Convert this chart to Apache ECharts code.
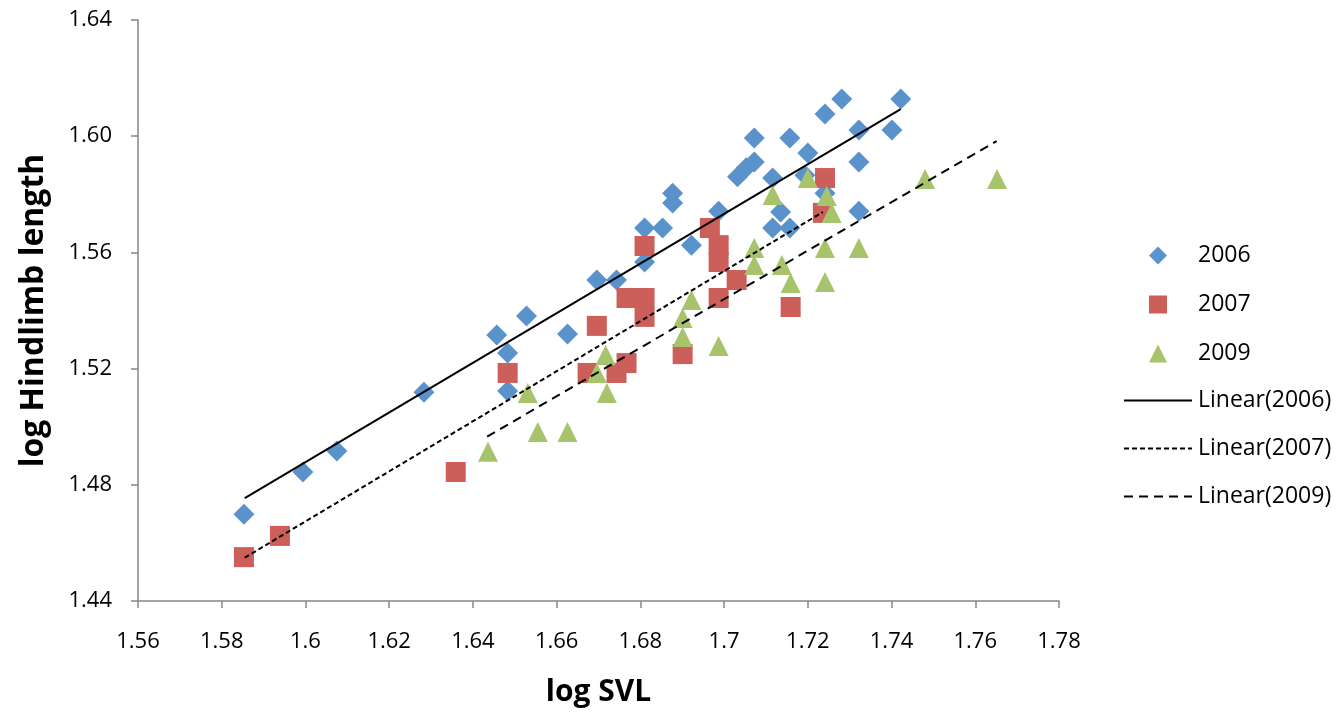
<!DOCTYPE html>
<html>
<head>
<meta charset="utf-8">
<title>log Hindlimb length vs log SVL</title>
<script src="https://cdn.jsdelivr.net/npm/echarts@6/dist/echarts.min.js"></script>
<style>
    html, body {margin: 0; padding: 0; background: #fff;}
    #chart {width: 1338px; height: 723px;}
</style>
</head>
<body>
<div id="chart"></div>
<script>

    // 每年的散点 [log SVL, log Hindlimb length]
    var points2006 = [
        [1.5853, 1.4699], [1.5994, 1.4844], [1.6075, 1.4916], [1.6283, 1.5119],
        [1.6457, 1.5316], [1.6483, 1.5254], [1.6483, 1.5123], [1.6528, 1.5381],
        [1.6626, 1.5319], [1.6696, 1.5505], [1.6743, 1.5505], [1.6810, 1.5567],
        [1.6810, 1.5684], [1.6853, 1.5684], [1.6877, 1.5804], [1.6877, 1.5770],
        [1.6922, 1.5625], [1.6987, 1.5742], [1.7032, 1.5860], [1.7053, 1.5891],
        [1.7072, 1.5911], [1.7072, 1.5994], [1.7116, 1.5856], [1.7116, 1.5684],
        [1.7135, 1.5739], [1.7157, 1.5994], [1.7157, 1.5684], [1.7193, 1.5866],
        [1.7200, 1.5942], [1.7241, 1.6076], [1.7241, 1.5804], [1.7281, 1.6128],
        [1.7322, 1.6021], [1.7322, 1.5911], [1.7322, 1.5742], [1.7401, 1.6021],
        [1.7422, 1.6128]
    ];

    var points2007 = [
        [1.5853, 1.4551], [1.5939, 1.4624], [1.6359, 1.4844], [1.6483, 1.5185],
        [1.6696, 1.5347], [1.6674, 1.5185], [1.6743, 1.5185], [1.6767, 1.5219],
        [1.6767, 1.5443], [1.6810, 1.5443], [1.6810, 1.5378], [1.6810, 1.5622],
        [1.6901, 1.5250], [1.6966, 1.5684], [1.6987, 1.5625], [1.6987, 1.5567],
        [1.6987, 1.5443], [1.7030, 1.5505], [1.7159, 1.5412], [1.7241, 1.5856],
        [1.7236, 1.5736]
    ];

    var points2009 = [
        [1.6436, 1.4914], [1.6531, 1.5116], [1.6555, 1.4982], [1.6626, 1.4982],
        [1.6696, 1.5185], [1.6717, 1.5247], [1.6720, 1.5116], [1.6901, 1.5374],
        [1.6901, 1.5309], [1.6922, 1.5436], [1.6987, 1.5278], [1.7072, 1.5615],
        [1.7072, 1.5557], [1.7116, 1.5798], [1.7138, 1.5557], [1.7159, 1.5495],
        [1.7200, 1.5856], [1.7245, 1.5794], [1.7241, 1.5615], [1.7241, 1.5498],
        [1.7257, 1.5736], [1.7322, 1.5615], [1.7480, 1.5853], [1.7652, 1.5853]
    ];

    // 趋势线端点
    var trend2006 = [[1.5855, 1.4754], [1.7422, 1.6093]];
    var trend2007 = [[1.5855, 1.4549], [1.7236, 1.5739]];
    var trend2009 = [[1.6434, 1.4966], [1.7651, 1.5983]];

    var yearNames = ['2006', '2007', '2009'];
    var trendNames = ['Linear(2006)', 'Linear(2007)', 'Linear(2009)'];

    var FONT = '"Open Sans", "Noto Sans", sans-serif';
    var AXIS_COLOR = '#868686';

    var chart = echarts.init(document.getElementById('chart'), null, {renderer: 'canvas'});

    function scatter(name, data, symbol, size, color) {
        return {
            name: name,
            type: 'scatter',
            data: data,
            symbol: symbol,
            symbolSize: size,
            itemStyle: {color: color, opacity: 1},
            emphasis: {disabled: true},
            z: 2
        };
    }

    function trend(name, data, dash) {
        return {
            name: name,
            type: 'line',
            data: data,
            symbol: 'none',
            lineStyle: {color: '#000', width: 2, type: dash},
            emphasis: {disabled: true},
            silent: true,
            z: 5
        };
    }

    var option = {
        animation: false,
        backgroundColor: '#fff',
        grid: {left: 138, top: 20, width: 921, height: 581},
        legend: [
            {
                data: yearNames,
                orient: 'vertical',
                left: 1149,
                top: 244,
                padding: 0,
                itemWidth: 18,
                itemHeight: 18,
                itemGap: 26,
                selectedMode: false,
                textStyle: {
                    fontFamily: FONT, fontSize: 23, color: '#000',
                    lineHeight: 18, padding: [0, 0, 0, 26]
                }
            },
            {
                data: trendNames,
                orient: 'vertical',
                left: 1123,
                top: 389,
                padding: 0,
                itemWidth: 68,
                itemHeight: 14,
                itemGap: 25,
                selectedMode: false,
                itemStyle: {opacity: 0},
                textStyle: {
                    fontFamily: FONT, fontSize: 23, color: '#000',
                    lineHeight: 14, padding: [0, 0, 0, 1]
                }
            }
        ],
        xAxis: {
            type: 'value',
            min: 1.56,
            max: 1.78,
            interval: 0.02,
            name: 'log SVL',
            nameLocation: 'middle',
            nameGap: 76,
            nameTextStyle: {fontFamily: FONT, fontSize: 30, fontWeight: 'bold', color: '#000'},
            axisLine: {lineStyle: {color: AXIS_COLOR, width: 1.5}},
            axisTick: {show: true, length: 7, lineStyle: {color: AXIS_COLOR, width: 1.5}},
            axisLabel: {
                fontFamily: FONT, fontSize: 22, color: '#000', margin: 30,
                formatter: function (v) {
                    return String(+v.toFixed(2));
                }
            },
            splitLine: {show: false}
        },
        yAxis: {
            type: 'value',
            min: 1.44,
            max: 1.64,
            interval: 0.04,
            name: 'log Hindlimb length',
            nameLocation: 'middle',
            nameGap: 88,
            nameTextStyle: {fontFamily: FONT, fontSize: 32, fontWeight: 'bold', color: '#000'},
            axisLine: {show: true, lineStyle: {color: AXIS_COLOR, width: 1.5}},
            axisTick: {show: true, length: 7, lineStyle: {color: AXIS_COLOR, width: 1.5}},
            axisLabel: {
                fontFamily: FONT, fontSize: 22, color: '#000', margin: 26,
                formatter: function (v) {
                    return v.toFixed(2);
                }
            },
            splitLine: {show: false}
        },
        series: [
            scatter(yearNames[0], points2006, 'diamond', 21, '#5a92cc'),
            scatter(yearNames[1], points2007, 'rect', 20, '#cc5f5a'),
            scatter(yearNames[2], points2009, 'triangle', 20, '#a7c36b'),
            trend(trendNames[0], trend2006, 'solid'),
            trend(trendNames[1], trend2007, [5, 3]),
            trend(trendNames[2], trend2009, [9, 6])
        ]
    };

    chart.setOption(option);

</script>
</body>
</html>
